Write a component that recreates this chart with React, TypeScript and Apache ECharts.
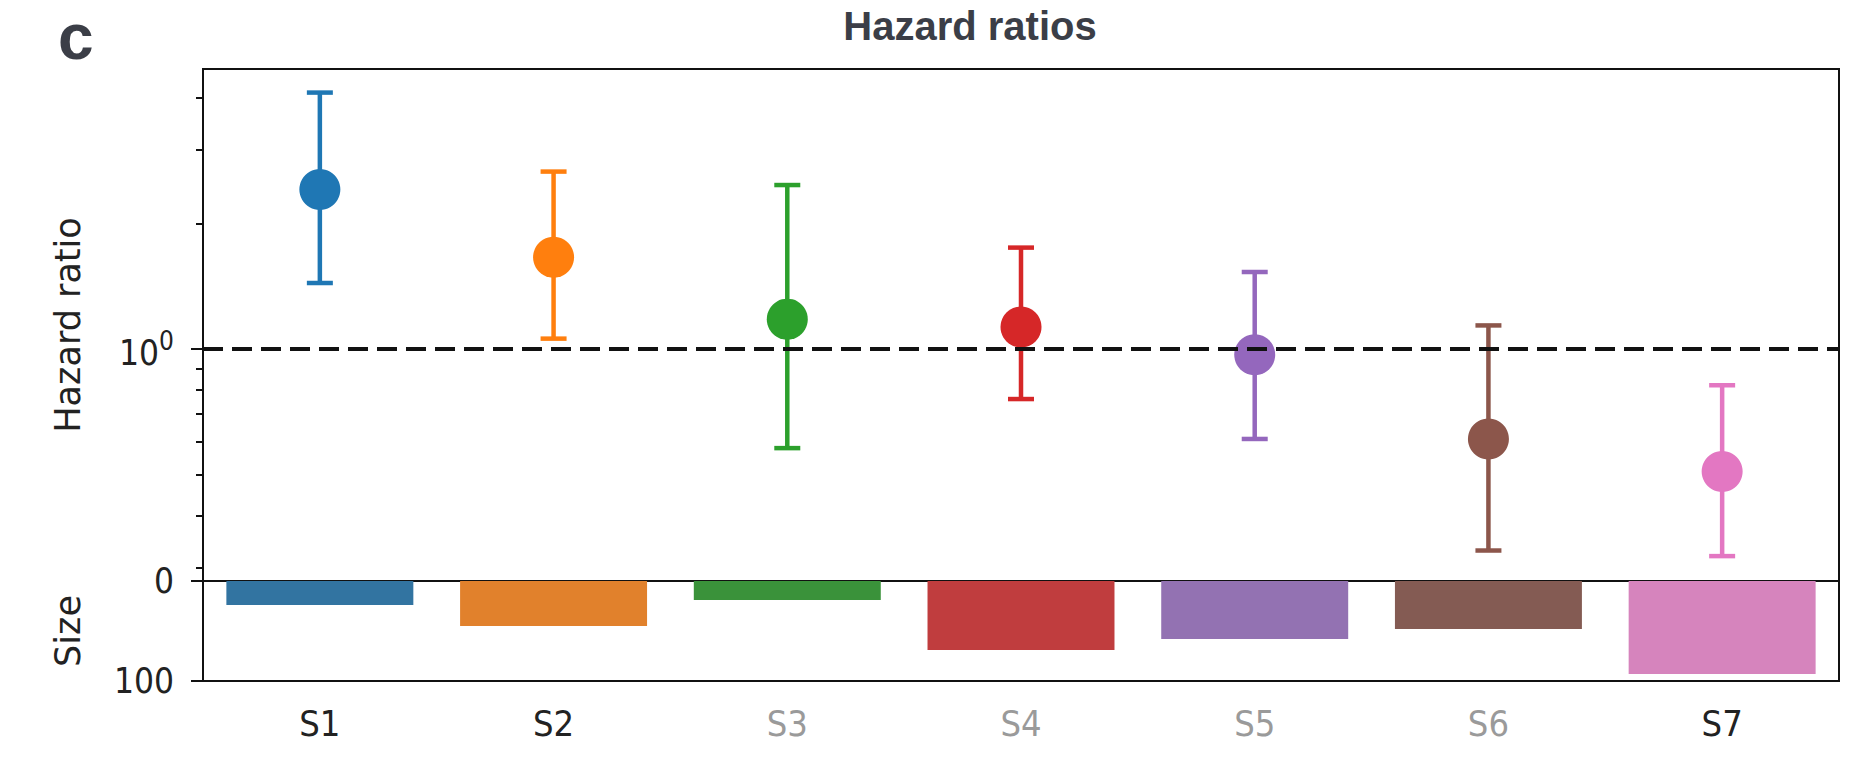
import React, { useEffect, useRef } from 'react';
import * as echarts from 'echarts';

// ---- data ----
const categories = ['S1', 'S2', 'S3', 'S4', 'S5', 'S6', 'S7'];
const hazardRatio = [2.41, 1.66, 1.18, 1.13, 0.97, 0.61, 0.51];
const ciLower = [1.44, 1.06, 0.58, 0.76, 0.61, 0.33, 0.32];
const ciUpper = [4.11, 2.66, 2.47, 1.75, 1.53, 1.14, 0.82];
const sizes = [24, 45, 19, 69, 58, 48, 93];
const labelDark = [true, true, false, false, false, false, true];
const hrMajorTicks = [1];
const hrMinorTicks = [0.3, 0.4, 0.5, 0.6, 0.7, 0.8, 0.9, 2, 3, 4];
const referenceLine = 1;

const pointColors = ['#1f77b4', '#ff7f0e', '#2ca02c', '#d62728', '#9467bd', '#8c564b', '#e377c2'];
const barColors = ['#3274a1', '#e1812c', '#3a923a', '#c03d3e', '#9372b2', '#845b53', '#d684bd'];

const HR_MIN = 0.279;
const HR_MAX = 4.68;

const TICK_FONT = "'DejaVu Sans Condensed', 'DejaVu Sans', sans-serif";
const NAME_FONT = "'DejaVu Sans', sans-serif";
const TITLE_FONT = "'Liberation Sans', Arial, sans-serif";
const AX = '#111111';

export default function App() {
  const ref = useRef<HTMLDivElement>(null);

  useEffect(() => {
    if (!ref.current) return;
    const chart = echarts.init(ref.current, null, { renderer: 'svg' });

    const option: any = {
      animation: false,
      backgroundColor: '#ffffff',
      graphic: [
        {
          type: 'text',
          x: 970,
          y: 25.5,
          style: {
            text: 'Hazard ratios',
            font: `bold 40px ${TITLE_FONT}`,
            fill: '#3b3e47',
            align: 'center',
            verticalAlign: 'middle',
          },
        },
        {
          type: 'text',
          x: 58,
          y: 36.5,
          style: {
            text: 'c',
            font: `bold 64px ${TITLE_FONT}`,
            fill: '#3b3e47',
            align: 'left',
            verticalAlign: 'middle',
          },
        },
      ],
      grid: [
        { left: 203, top: 69, width: 1636, height: 512, show: true, borderColor: AX, borderWidth: 2, backgroundColor: 'transparent' },
        { left: 203, top: 581, width: 1636, height: 100, show: true, borderColor: AX, borderWidth: 2, backgroundColor: 'transparent' },
      ],
      xAxis: [
        {
          type: 'category',
          gridIndex: 0,
          data: categories,
          axisLine: { show: false },
          axisTick: { show: false },
          axisLabel: { show: false },
          splitLine: { show: false },
        },
        {
          type: 'category',
          gridIndex: 1,
          data: categories,
          position: 'bottom',
          axisLine: { show: false },
          axisTick: { show: true, alignWithLabel: true, length: 12, lineStyle: { color: AX, width: 2 } },
          axisLabel: {
            margin: 24,
            fontSize: 36,
            fontFamily: TICK_FONT,
            color: (_v: any, i: number) => (labelDark[i] ? '#222222' : '#9a9a9a'),
          },
          splitLine: { show: false },
        },
      ],
      yAxis: [
        {
          type: 'log',
          logBase: 10,
          gridIndex: 0,
          position: 'left',
          min: HR_MIN,
          max: HR_MAX,
          axisLine: { show: false },
          splitLine: { show: false },
          axisTick: { show: true, customValues: hrMajorTicks, length: 12, lineStyle: { color: AX, width: 2 } },
          axisLabel: {
            customValues: hrMajorTicks,
            margin: 29,
            formatter: (v: number) => (Math.abs(v - 1) < 1e-6 ? '{b|10}{s|0}' : ''),
            rich: {
              b: { fontSize: 35, fontFamily: TICK_FONT, color: '#222222', padding: [8, 0, 0, 0] },
              s: { fontSize: 26, fontFamily: TICK_FONT, color: '#222222', verticalAlign: 'top' },
            },
          },
          name: 'Hazard ratio',
          nameLocation: 'middle',
          nameGap: 118,
          nameRotate: 90,
          nameTextStyle: { fontSize: 35, fontFamily: NAME_FONT, color: '#222222' },
        },
        {
          type: 'value',
          gridIndex: 1,
          position: 'left',
          inverse: true,
          min: 0,
          max: 100,
          interval: 100,
          axisLine: { show: false },
          splitLine: { show: false },
          axisTick: { show: true, length: 12, lineStyle: { color: AX, width: 2 } },
          axisLabel: { fontSize: 35, fontFamily: TICK_FONT, color: '#222222', margin: 29 },
          name: 'Size',
          nameLocation: 'middle',
          nameGap: 118,
          nameRotate: 90,
          nameTextStyle: { fontSize: 35, fontFamily: NAME_FONT, color: '#222222' },
        },
        {
          type: 'log',
          logBase: 10,
          gridIndex: 0,
          position: 'left',
          offset: 0,
          min: HR_MIN,
          max: HR_MAX,
          axisLine: { show: false },
          splitLine: { show: false },
          axisLabel: { show: false },
          axisTick: { show: true, customValues: hrMinorTicks, length: 7, lineStyle: { color: AX, width: 2 } },
        },
      ],
      series: [
        {
          type: 'custom',
          name: 'CI',
          xAxisIndex: 0,
          yAxisIndex: 0,
          z: 2,
          encode: { x: 0, y: [1, 2] },
          data: categories.map((_c, i) => [i, ciLower[i], ciUpper[i]]),
          renderItem: (params: any, api: any) => {
            const idx = api.value(0);
            const lo = api.coord([idx, api.value(1)]);
            const hi = api.coord([idx, api.value(2)]);
            const color = pointColors[params.dataIndex];
            const cap = 13;
            const style = { stroke: color, lineWidth: 4.5, fill: null };
            return {
              type: 'group',
              children: [
                { type: 'line', shape: { x1: lo[0], y1: lo[1], x2: hi[0], y2: hi[1] }, style },
                { type: 'line', shape: { x1: lo[0] - cap, y1: lo[1], x2: lo[0] + cap, y2: lo[1] }, style },
                { type: 'line', shape: { x1: hi[0] - cap, y1: hi[1], x2: hi[0] + cap, y2: hi[1] }, style },
              ],
            };
          },
        },
        {
          type: 'scatter',
          name: 'Hazard ratio',
          xAxisIndex: 0,
          yAxisIndex: 0,
          z: 3,
          symbol: 'circle',
          symbolSize: 41,
          data: categories.map((_c, i) => [i, hazardRatio[i]]),
          itemStyle: { color: (p: any) => pointColors[p.dataIndex], opacity: 1 },
        },
        {
          type: 'bar',
          name: 'Size',
          xAxisIndex: 1,
          yAxisIndex: 1,
          barWidth: '80%',
          data: sizes.map((v, i) => ({ value: v, itemStyle: { color: barColors[i] } })),
        },
        {
          type: 'line',
          name: 'reference',
          xAxisIndex: 0,
          yAxisIndex: 0,
          z: 5,
          data: [],
          markLine: {
            silent: true,
            symbol: 'none',
            label: { show: false },
            lineStyle: { color: AX, width: 4, type: [20, 9] },
            data: [{ yAxis: referenceLine }],
          },
        },
      ],
    };

    chart.setOption(option);
    return () => chart.dispose();
  }, []);

  return (
    <div
      ref={ref}
      style={{ position: 'absolute', left: 0, top: 0, width: 1874, height: 768, background: '#fff' }}
    />
  );
}
